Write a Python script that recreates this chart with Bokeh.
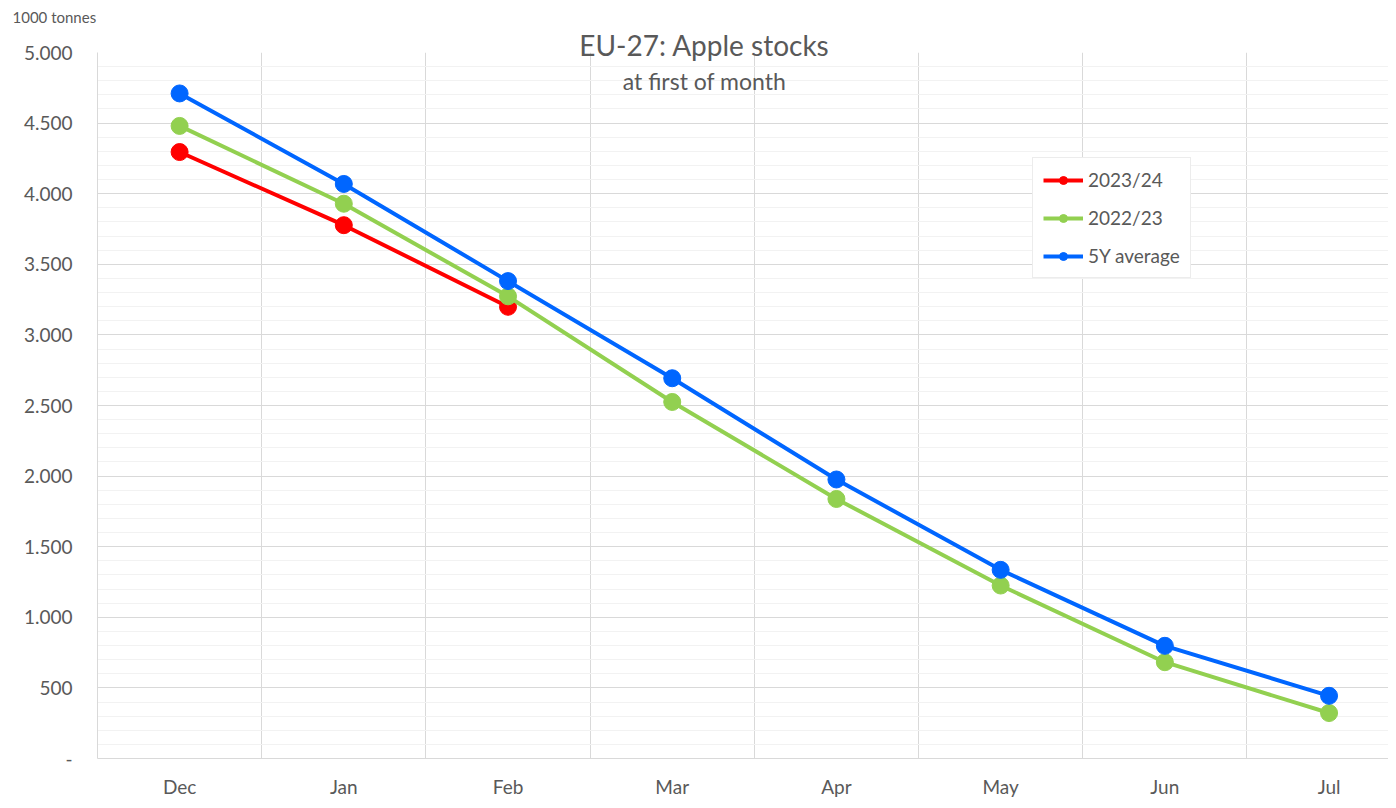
from bokeh.plotting import figure
from bokeh.models import Range1d, FixedTicker, Legend, LegendItem, Label
from bokeh.embed import file_html
from bokeh.resources import INLINE

months = ["Dec", "Jan", "Feb", "Mar", "Apr", "May", "Jun", "Jul"]
s2324 = [4295, 3777, 3199]
s2223 = [4480, 3929, 3273, 2525, 1838, 1225, 682, 322]
s5y = [4710, 4069, 3381, 2693, 1976, 1336, 798, 444]
y_ticks = [0, 500, 1000, 1500, 2000, 2500, 3000, 3500, 4000, 4500, 5000]
y_tick_labels = ["-", "500", "1.000", "1.500", "2.000", "2.500", "3.000",
                 "3.500", "4.000", "4.500", "5.000"]
title_text = "EU-27: Apple stocks"
subtitle_text = "at first of month"
unit_text = "1000 tonnes"

FONT = "Lato"
TXT = "#595959"
GRID = "#D9D9D9"

p = figure(width=1388, height=800, output_backend="svg", toolbar_location=None,
           x_range=Range1d(0, 7.862), y_range=Range1d(0, 5000),
           min_border_left=97, min_border_right=0, min_border_top=52, min_border_bottom=34)
p.outline_line_color = None
p.background_fill_color = "white"
p.border_fill_color = "white"
p.title.visible = False

# header texts in the top band (absolute canvas positions)
p.add_layout(Label(x=12, y=16, x_units="canvas", y_units="canvas", text=unit_text,
                   text_align="left", text_baseline="middle", text_font=FONT,
                   text_font_size="15px", text_color=TXT), "above")
p.add_layout(Label(x=704, y=44, x_units="canvas", y_units="canvas", text=title_text,
                   text_align="center", text_baseline="alphabetic", text_font=FONT,
                   text_font_size="28px", text_color=TXT), "above")
# subtitle just below the top of the plot area
p.add_layout(Label(x=704, y=80, x_units="canvas", y_units="canvas", text=subtitle_text,
                   text_align="center", text_baseline="alphabetic", text_font=FONT,
                   text_font_size="23px", text_color=TXT))

xc = [i + 0.5 for i in range(len(months))]

# axes
p.xaxis.ticker = FixedTicker(ticks=xc)
p.xaxis.major_label_overrides = {x: m for x, m in zip(xc, months)}
p.xaxis.major_tick_line_color = None
p.xaxis.minor_tick_line_color = None
p.xaxis.axis_line_color = GRID
p.xaxis.major_label_text_font = FONT
p.xaxis.major_label_text_font_size = "19px"
p.xaxis.major_label_text_color = TXT
p.xaxis.major_label_standoff = 10

p.yaxis.ticker = FixedTicker(ticks=y_ticks)
p.yaxis.major_label_overrides = {t: l for t, l in zip(y_ticks, y_tick_labels)}
p.yaxis.major_tick_line_color = None
p.yaxis.minor_tick_line_color = None
p.yaxis.axis_line_color = GRID
p.yaxis.major_label_text_font = FONT
p.yaxis.major_label_text_font_size = "19px"
p.yaxis.major_label_text_color = TXT
p.yaxis.major_label_standoff = 19

# grids
p.xgrid.ticker = FixedTicker(ticks=list(range(1, len(months))))
p.xgrid.grid_line_color = GRID
p.ygrid.ticker = FixedTicker(ticks=y_ticks, minor_ticks=list(range(0, 5001, 100)))
p.ygrid.grid_line_color = GRID
p.ygrid.minor_grid_line_color = "#F2F2F2"

series = [("2023/24", s2324, "#FF0000"), ("2022/23", s2223, "#92D050"), ("5Y average", s5y, "#0066FF")]
items = []
for name, vals, col in series:
    xs = xc[:len(vals)]
    lr = p.line(xs, vals, line_color=col, line_width=4)
    sr = p.scatter(xs, vals, size=17, fill_color=col, line_color=col)
    items.append(LegendItem(label=name, renderers=[lr, sr]))

leg = Legend(items=items, location=(935, 480), border_line_color=GRID,
             background_fill_color="white", background_fill_alpha=1,
             label_text_font=FONT, label_text_font_size="19px", label_text_color=TXT,
             glyph_width=40, glyph_height=20, label_height=20, spacing=15,
             padding=10, margin=0, label_standoff=5)
p.add_layout(leg, "center")

open("out.html", "w").write(file_html(p, INLINE))
